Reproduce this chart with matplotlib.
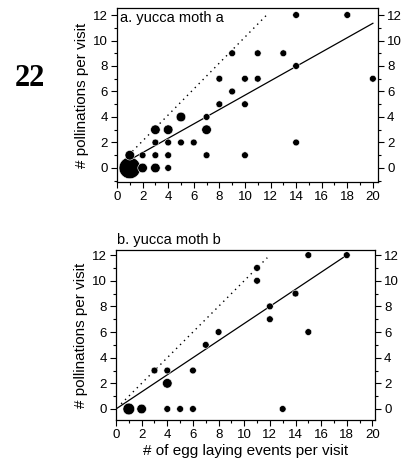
import matplotlib
matplotlib.use("Agg")
import numpy as np
import matplotlib.pyplot as plt
from matplotlib.ticker import MultipleLocator

plt.rcParams['font.family'] = ['Liberation Sans', 'DejaVu Sans']

# panel a: egg laying events, pollinations, number of visits at that point
a_eggs = [1, 1, 2, 2, 3, 3, 3, 3, 4, 4, 4, 4, 5, 5, 6, 7, 7, 7, 8, 8, 9, 9,
          10, 10, 10, 11, 11, 13, 14, 14, 14, 18, 20]
a_poll = [0, 1, 0, 1, 0, 1, 2, 3, 0, 1, 2, 3, 2, 4, 2, 1, 3, 4, 5, 7, 6, 9,
          1, 5, 7, 7, 9, 9, 2, 8, 12, 12, 7]
a_count = [10, 2, 2, 1, 2, 1, 1, 2, 1, 1, 1, 2, 1, 2, 1, 1, 2, 1, 1, 1, 1, 1,
           1, 1, 1, 1, 1, 1, 1, 1, 1, 1, 1]
a_fit_x = [1.2, 20]
a_fit_y = [0.75, 11.35]
a_one_x = [0.9, 11.7]
a_one_y = [1.0, 12.0]

# panel b
b_eggs = [1, 2, 3, 4, 4, 4, 5, 6, 6, 7, 8, 11, 11, 12, 12, 13, 14, 15, 15, 18]
b_poll = [0, 0, 3, 0, 2, 3, 0, 0, 3, 5, 6, 10, 11, 7, 8, 0, 9, 6, 12, 12]
b_count = [3, 2, 1, 1, 2, 1, 1, 1, 1, 1, 1, 1, 1, 1, 1, 1, 1, 1, 1, 1]
b_fit_x = [0, 18]
b_fit_y = [0, 12]
b_one_x = [0.4, 11.8]
b_one_y = [0.4, 11.8]

W, H = 417, 466
fig = plt.figure(figsize=(W / 100, H / 100), dpi=100)


def make_axes(px):
    l, t, r, b = px
    return fig.add_axes([l / W, 1 - b / H, (r - l) / W, (b - t) / H])


def style(ax, xlim, ylim):
    ax.set_xlim(*xlim)
    ax.set_ylim(*ylim)
    ax.xaxis.set_major_locator(MultipleLocator(2))
    ax.xaxis.set_minor_locator(MultipleLocator(1))
    ax.yaxis.set_major_locator(MultipleLocator(2))
    ax.yaxis.set_minor_locator(MultipleLocator(1))
    ax.tick_params(which='both', direction='out', labelsize=9.5, width=0.8,
                   left=True, right=True, labelleft=True, labelright=True,
                   top=False, bottom=True, pad=2)
    ax.tick_params(which='major', length=4.5)
    ax.tick_params(which='minor', length=2.5)
    for s in ax.spines.values():
        s.set_linewidth(0.9)
    ax.set_ylabel('# pollinations per visit', fontsize=11, labelpad=3)


def draw(ax, x, y, n, fx, fy, ox, oy):
    ax.plot(ox, oy, color='black', lw=1.0, ls=(0, (1, 3)))
    ax.plot(fx, fy, color='black', lw=0.9)
    ax.scatter(x, y, s=np.array(n) * 24, color='black', edgecolors='white',
               linewidths=0.4, zorder=3, clip_on=False)


ax1 = make_axes((117, 8, 378, 182))
style(ax1, (0, 20.4), (-1.1, 12.55))
draw(ax1, a_eggs, a_poll, a_count, a_fit_x, a_fit_y, a_one_x, a_one_y)
ax1.text(0.012, 0.92, 'a. yucca moth a', transform=ax1.transAxes,
         fontsize=10.5, va='baseline', ha='left')

ax2 = make_axes((116, 250, 375, 420))
style(ax2, (0, 20.2), (-0.86, 12.4))
draw(ax2, b_eggs, b_poll, b_count, b_fit_x, b_fit_y, b_one_x, b_one_y)
ax2.text(0.005, 1.035, 'b. yucca moth b', transform=ax2.transAxes,
         fontsize=10.5, va='baseline', ha='left')
ax2.set_xlabel('# of egg laying events per visit', fontsize=11, labelpad=2)

fig.text(30 / W, 1 - 78 / H, '22', fontsize=22, fontweight='bold',
         family='Liberation Serif', ha='center', va='center')

fig.savefig('out.png', dpi=100)
